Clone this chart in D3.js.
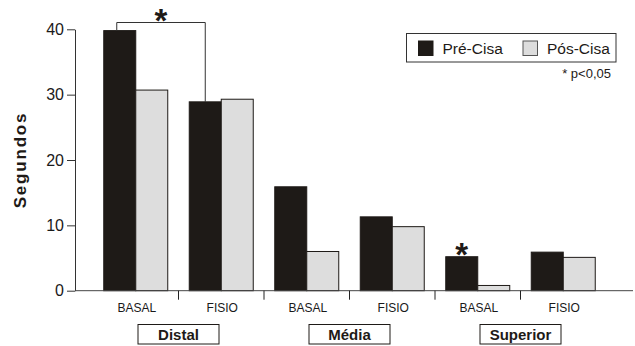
<!DOCTYPE html>
<html>
<head>
<meta charset="utf-8">
<script src="https://cdn.jsdelivr.net/npm/d3@7"></script>
<style>
  html, body { margin: 0; padding: 0; background: #fff; }
  svg { display: block; font-family: "Liberation Sans", Arial, Helvetica, sans-serif; }
</style>
</head>
<body>
<svg id="chart" width="635" height="346"></svg>
<script>
// ---- data ----
const groups = ["Distal", "Média", "Superior"];
const xTickLabels = ["BASAL", "FISIO", "BASAL", "FISIO", "BASAL", "FISIO"];
const seriesNames = ["Pré-Cisa", "Pós-Cisa"];
const preCisa = [39.8, 28.9, 15.9, 11.3, 5.2, 5.9];
const posCisa = [30.7, 29.3, 6.0, 9.8, 0.8, 5.1];
const yTicks = [0, 10, 20, 30, 40];
const noteText = "* p<0,05";

// ---- layout ----
const svg = d3.select("#chart");
const ink = "#1e1a17";
const colors = { "Pré-Cisa": ink, "Pós-Cisa": "#dddddd" };

const x = d3.scaleBand().domain(d3.range(xTickLabels.length)).range([93, 606]).paddingInner(0).paddingOuter(0);
const xs = d3.scaleBand().domain(seriesNames).range([0, x.bandwidth()]).paddingInner(0).paddingOuter(0.336);
const y = d3.scaleLinear().domain([0, 40]).range([290.7, 29.3]);

const rows = xTickLabels.map((lab, i) => ({ i, lab, values: [
  { s: "Pré-Cisa", v: preCisa[i] }, { s: "Pós-Cisa", v: posCisa[i] } ] }));

// bars
const g = svg.append("g");
rows.forEach(r => {
  g.selectAll(null).data(r.values).enter().append("rect")
    .attr("x", d => x(r.i) + xs(d.s))
    .attr("width", xs.bandwidth())
    .attr("y", d => y(d.v))
    .attr("height", d => y(0) - y(d.v))
    .attr("fill", d => colors[d.s])
    .attr("stroke", ink)
    .attr("stroke-width", 1);
});

// y axis
const yAxis = d3.axisLeft(y).tickValues(yTicks).tickSize(8).tickPadding(3).tickSizeOuter(0);
const ya = svg.append("g").attr("transform", "translate(75,0)").call(yAxis);
ya.select(".domain").attr("stroke", "#333");
ya.selectAll(".tick line").attr("stroke", "#333");
ya.selectAll(".tick text").attr("font-size", 16).attr("fill", "#1a1a1a")
  .attr("font-family", "Liberation Sans, Arial, sans-serif");

// x axis baseline
svg.append("line").attr("x1", 75).attr("x2", 633).attr("y1", y(0)).attr("y2", y(0))
  .attr("stroke", "#444").attr("stroke-width", 1);

// separators
d3.range(1, xTickLabels.length).forEach(i => {
  svg.append("line").attr("x1", x(i)).attr("x2", x(i)).attr("y1", y(0)).attr("y2", y(0) + 9)
    .attr("stroke", "#222").attr("stroke-width", 1);
});

// x tick labels
svg.selectAll(".xl").data(rows).enter().append("text")
  .attr("x", d => x(d.i) + x.bandwidth() / 2 + 1)
  .attr("y", 312)
  .attr("text-anchor", "middle").attr("font-size", 12).attr("fill", "#1a1a1a")
  .text(d => d.lab);

// group labels in boxes
groups.forEach((gname, k) => {
  const cx = x(2 * k + 1);
  svg.append("rect").attr("x", cx - 40.5).attr("y", 324.5).attr("width", 81).attr("height", 19.5)
    .attr("fill", "none").attr("stroke", ink).attr("stroke-width", 1);
  svg.append("text").attr("x", cx).attr("y", 339.5).attr("text-anchor", "middle")
    .attr("font-size", 15).attr("font-weight", "bold").attr("fill", ink).text(gname);
});

// y axis title
svg.append("text").attr("transform", "translate(26,160) rotate(-90)")
  .attr("text-anchor", "middle").attr("font-size", 17).attr("font-weight", "bold")
  .attr("letter-spacing", 1.8).attr("fill", ink).text("Segundos");

// legend
const lg = svg.append("g");
lg.append("rect").attr("x", 406.5).attr("y", 33.5).attr("width", 209.5).attr("height", 28.5)
  .attr("fill", "#fff").attr("stroke", "#333").attr("stroke-width", 1);
const legX = [418.5, 523];
seriesNames.forEach((s, k) => {
  lg.append("rect").attr("x", legX[k]).attr("y", 41).attr("width", 14.5).attr("height", 14.5)
    .attr("fill", colors[s]).attr("stroke", k === 0 ? ink : "#555").attr("stroke-width", 1);
  lg.append("text").attr("x", legX[k] + 24).attr("y", 53.5).attr("font-size", 15.5)
    .attr("fill", ink).text(s);
});
svg.append("text").attr("x", 611).attr("y", 77.5).attr("text-anchor", "end")
  .attr("font-size", 13).attr("fill", ink).text(noteText);

// significance bracket: Distal BASAL Pré vs Distal FISIO Pré
const bx1 = x(0) + xs("Pré-Cisa") + xs.bandwidth() / 2 - 3;
const bx2 = x(1) + xs("Pré-Cisa") + xs.bandwidth() / 2;
const by = 22.5;
svg.append("path")
  .attr("d", `M${bx1},${y(preCisa[0])} V${by} H${bx2} V${y(preCisa[1])}`)
  .attr("fill", "none").attr("stroke", "#333").attr("stroke-width", 1);
function star(cx, cy) {
  svg.append("text").attr("x", cx).attr("y", cy + 19).attr("text-anchor", "middle")
    .attr("font-size", 33).attr("font-weight", "bold").attr("fill", ink).text("*");
}
star((bx1 + bx2) / 2, 12.8);
star(x(4) + xs("Pré-Cisa") + xs.bandwidth() / 2, y(preCisa[4]) - 9.3);
</script>
</body>
</html>
